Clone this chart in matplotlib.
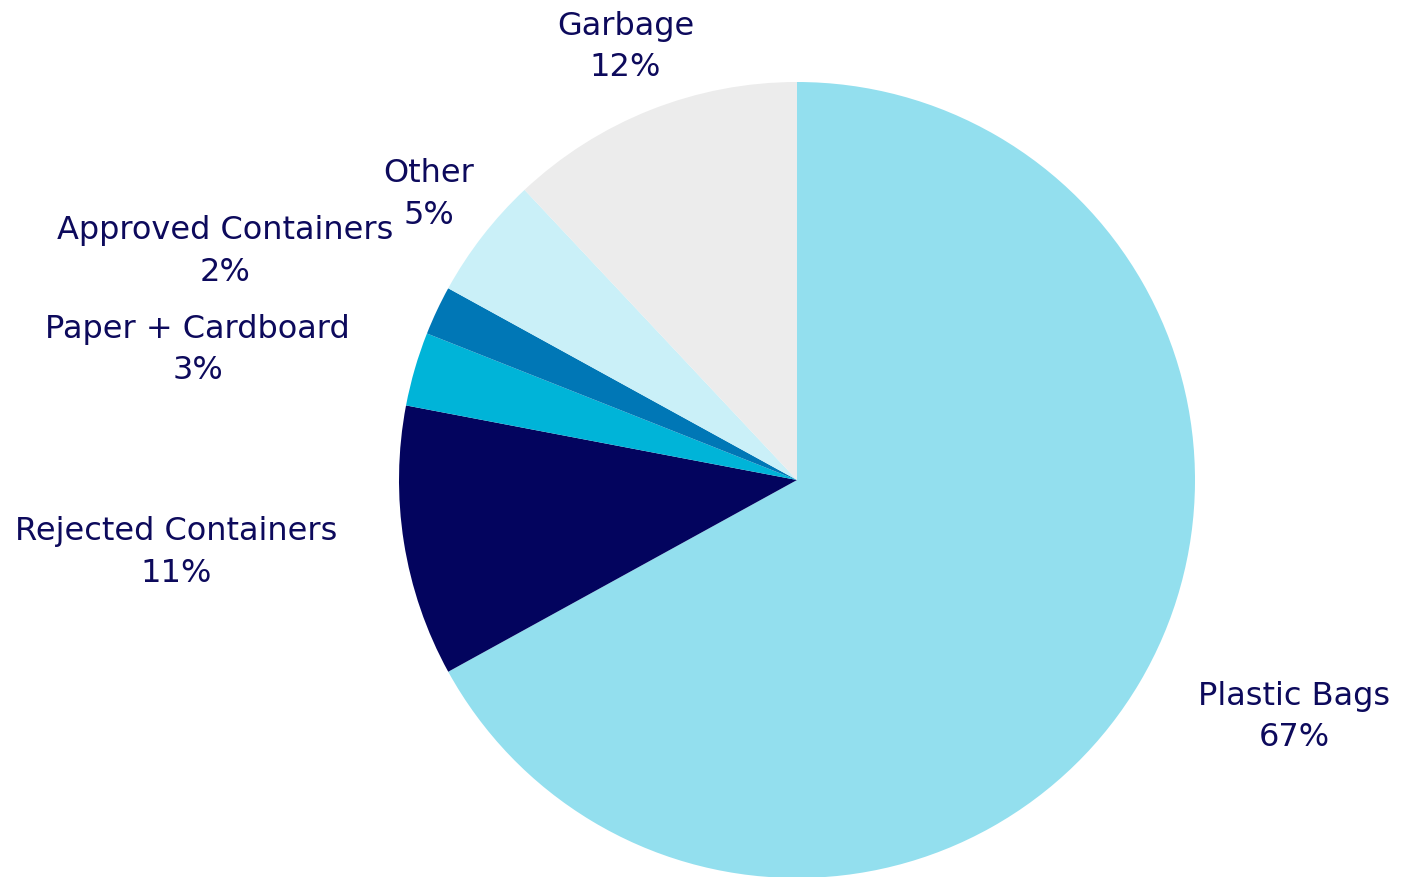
import numpy as np
import matplotlib
matplotlib.use("Agg")
import matplotlib.pyplot as plt

categories = ["Plastic Bags", "Rejected Containers", "Paper + Cardboard",
              "Approved Containers", "Other", "Garbage"]
shares = [67, 11, 3, 2, 5, 12]
colors = ["#93dfee", "#03045e", "#00b4d8", "#0077b6", "#caf0f8", "#ececec"]
text_color = "#0d0a5c"

W, H = 1413, 877
fig = plt.figure(figsize=(W / 100, H / 100), dpi=100)
ax = fig.add_axes([0, 0, 1, 1])

labels = [f"{c}\n{v}%" for c, v in zip(categories, shares)]
wedges, texts = ax.pie(shares, labels=labels, colors=colors, startangle=90,
                       counterclock=False, labeldistance=1.17,
                       wedgeprops=dict(linewidth=0),
                       textprops=dict(color=text_color, fontsize=23,
                                      family="DejaVu Sans", linespacing=1.45))

# labels near the top are centred, as in the original
for w, t in zip(wedges, texts):
    ang = np.deg2rad((w.theta1 + w.theta2) / 2)
    if abs(np.cos(ang)) < 0.85:
        t.set_ha("center")
    t.set_multialignment("center")

# nudge the small "Approved Containers" label clear of its neighbour
x, y = texts[3].get_position()
texts[3].set_position((x + 0.045, y + 0.075))

# centre at (797, 480) px, radius ~398 px
cx, cy, r = 797, 480, 398
ax.set_xlim(-cx / r, (W - cx) / r)
ax.set_ylim(-(H - cy) / r, cy / r)
ax.set_aspect("auto")
ax.axis("off")

fig.savefig("out.png", dpi=100)
